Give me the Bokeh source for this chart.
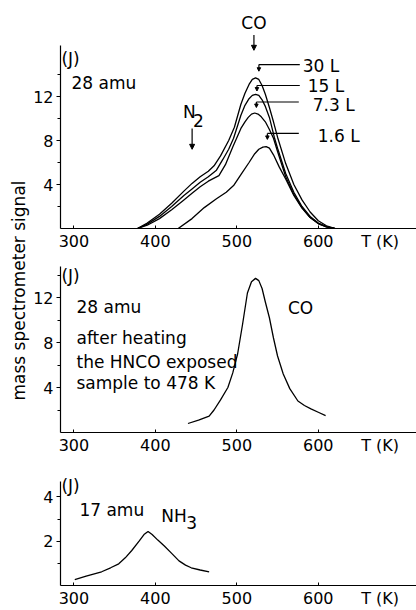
import math
from bokeh.plotting import figure
from bokeh.layouts import row, column
from bokeh.models import Label, Arrow, NormalHead, FixedTicker
from bokeh.embed import file_html
from bokeh.resources import INLINE

FONT = "DejaVu Sans"

# ---------------- data ----------------
# top panel: 28 amu, CO desorption after different HNCO exposures
T_30L = [378, 390, 405, 420, 435, 445, 455, 465, 472, 480, 490, 497, 505, 510, 515, 519, 523, 527, 531, 535,
         540, 545, 550, 560, 570, 580, 590, 600, 610, 621]
S_30L = [0, 0.5, 1.3, 2.3, 3.4, 4.1, 4.7, 5.2, 5.7, 6.6, 8.0, 9.2, 11.3, 12.3, 13.1, 13.55, 13.7, 13.55, 13.0, 12.2,
         11.0, 9.7, 8.3, 5.9, 4.0, 2.6, 1.5, 0.7, 0.25, 0]

T_15L = [378, 390, 405, 420, 435, 445, 455, 465, 475, 483, 490, 496, 505, 510, 515, 519, 523, 527, 531, 535,
         540, 546, 550, 560, 570, 580, 590, 600, 610, 620]
S_15L = [0, 0.4, 1.1, 2.0, 3.0, 3.6, 4.2, 4.7, 5.3, 6.3, 7.2, 8.2, 10.3, 11.2, 11.8, 12.1, 12.2, 12.1, 11.7, 11.1,
         10.1, 8.3, 7.3, 5.0, 3.3, 2.0, 1.1, 0.5, 0.18, 0]

T_73L = [378, 390, 405, 420, 435, 445, 455, 465, 478, 486, 495, 505, 510, 514, 518, 522, 526, 530, 535,
         540, 545, 550, 560, 570, 580, 590, 600, 610, 620]
S_73L = [0, 0.3, 0.9, 1.7, 2.6, 3.2, 3.8, 4.3, 4.8, 5.8, 7.4, 9.1, 9.7, 10.1, 10.4, 10.5, 10.4, 10.15, 9.7,
         9.0, 8.2, 7.0, 4.7, 3.1, 1.9, 1.0, 0.45, 0.15, 0]

T_16L = [428, 445, 460, 475, 487, 496, 505, 515, 522, 527, 532, 536, 540, 545, 552, 560, 570, 580, 590, 600, 610, 620]
S_16L = [0, 0.9, 1.9, 2.7, 3.3, 3.9, 4.9, 6.0, 6.8, 7.2, 7.4, 7.45, 7.3, 6.7, 5.6, 4.5, 3.0, 1.85, 1.0, 0.45, 0.15, 0]

# middle panel: 28 amu after heating to 478 K
T_CO = [440, 453, 466, 472, 480, 489, 495, 501, 507, 513, 518, 523, 527, 531, 535, 540, 545, 550, 557, 565,
        575, 583, 591, 600, 609]
S_CO = [0.8, 1.1, 1.45, 2.0, 2.9, 4.0, 5.3, 7.0, 9.6, 12.4, 13.4, 13.7, 13.5, 12.8, 11.6, 10.2, 8.4, 6.8, 5.2, 3.9,
        2.8, 2.4, 2.1, 1.8, 1.5]

# bottom panel: 17 amu, NH3
T_NH3 = [301, 315, 334, 345, 355, 363, 371, 380, 386, 391, 396, 403, 411, 420, 429, 437, 444, 455, 466]
S_NH3 = [0.27, 0.42, 0.62, 0.8, 0.98, 1.25, 1.58, 2.0, 2.3, 2.44, 2.3, 2.05, 1.78, 1.45, 1.11, 0.92, 0.8, 0.7, 0.62]

X_TICKS = [300, 400, 500, 600]
X_UNIT_POS = 676
X_UNIT_LABEL = "T (K)"
Y_TICKS_CO = [4, 8, 12]
Y_MINOR_CO = [2, 6, 10, 14]
Y_TICKS_NH3 = [2, 4]
Y_MINOR_NH3 = [1, 3]

X_RANGE = (283.5, 720.6)


def make_fig(height, ymax, border_bottom, yticks, yminor, ybound):
    p = figure(width=386, height=height, x_range=X_RANGE, y_range=(0, ymax),
               toolbar_location=None, output_backend="svg",
               min_border_left=29, min_border_right=0, min_border_top=0,
               min_border_bottom=border_bottom)
    p.grid.visible = False
    p.outline_line_color = None
    p.background_fill_color = "white"
    p.border_fill_color = "white"
    xa = p.xaxis[0]
    # numeric ticks plus the unit label written in the tick row; tick marks drawn as minor ticks
    xa.ticker = FixedTicker(ticks=X_TICKS + [X_UNIT_POS], minor_ticks=X_TICKS)
    xa.major_label_overrides = {X_UNIT_POS: X_UNIT_LABEL}
    xa.major_label_text_font = FONT
    xa.major_label_text_font_size = "16px"
    xa.major_label_text_color = "black"
    xa.major_label_standoff = 3
    xa.major_tick_in = 0
    xa.major_tick_out = 0
    xa.minor_tick_in = 3
    xa.minor_tick_out = 0
    xa.axis_line_width = 1.2
    xa.axis_line_color = "black"
    xa.minor_tick_line_color = "black"
    ya = p.yaxis[0]
    ya.ticker = FixedTicker(ticks=yticks, minor_ticks=yminor)
    ya.bounds = (0, ybound)
    ya.major_label_text_font = FONT
    ya.major_label_text_font_size = "16px"
    ya.major_label_text_color = "black"
    ya.major_label_standoff = 3
    ya.major_tick_in = 0
    ya.major_tick_out = 4
    ya.minor_tick_in = 0
    ya.minor_tick_out = 3
    ya.axis_line_width = 1.2
    ya.axis_line_color = "black"
    ya.major_tick_line_color = "black"
    ya.minor_tick_line_color = "black"
    return p


def lab(p, x, y, text, align="left", size="17px"):
    p.add_layout(Label(x=x, y=y, text=text, text_font=FONT, text_font_size=size,
                       text_color="black", text_align=align, text_baseline="middle"))


def arr(p, x0, y0, x1, y1, head=True, size=5):
    end = NormalHead(size=size, fill_color="black", line_color="black", line_width=1) if head else None
    p.add_layout(Arrow(x_start=x0, y_start=y0, x_end=x1, y_end=y1, end=end,
                       line_color="black", line_width=1.2))


LW = 1.3

# ---------------- top panel ----------------
p1 = make_fig(255, 228 / 11, 27, Y_TICKS_CO, Y_MINOR_CO, 16.6)
for T, S in [(T_30L, S_30L), (T_15L, S_15L), (T_73L, S_73L), (T_16L, S_16L)]:
    p1.line(T, S, line_color="black", line_width=LW)
lab(p1, 521, 18.7, "CO", align="center")
arr(p1, 521, 17.6, 521, 16.2)
lab(p1, 284.7, 15.4, "(J)")
lab(p1, 297, 13.2, "28 amu")
lab(p1, 434, 10.6, "N")
lab(p1, 446.3, 9.8, "2")
arr(p1, 445.1, 9.1, 445.1, 7.2)
# leader lines to the curves
for (xl, xr, yl, ytip, txt, tx, ty) in [
        (527.1, 577.3, 14.9, 14.3, "30 L", 581, 14.8),
        (524.7, 577.3, 13.0, 12.5, "15 L", 587, 12.95),
        (524.0, 576.1, 11.5, 11.0, "7.3 L", 593.2, 11.2),
        (537.5, 576.1, 8.64, 8.1, "1.6 L", 599.3, 8.45)]:
    arr(p1, xl, yl, xr, yl, head=False)
    arr(p1, xl, yl, xl, ytip, size=3.5)
    lab(p1, tx, ty, txt)

# ---------------- middle panel ----------------
p2 = make_fig(205, 177 / 11.25, 28, Y_TICKS_CO, Y_MINOR_CO, 14.8)
p2.line(T_CO, S_CO, line_color="black", line_width=LW)
lab(p2, 284.7, 13.9, "(J)")
lab(p2, 303.1, 11.2, "28 amu")
lab(p2, 562.7, 11.1, "CO")
lab(p2, 303.1, 8.44, "after heating")
lab(p2, 303.1, 6.31, "the HNCO exposed")
lab(p2, 303.1, 4.36, "sample to 478 K")

# ---------------- bottom panel ----------------
p3 = make_fig(150, 127 / 22.5, 23, Y_TICKS_NH3, Y_MINOR_NH3, 4.7)
p3.line(T_NH3, S_NH3, line_color="black", line_width=LW)
lab(p3, 284.7, 4.5, "(J)")
lab(p3, 306.7, 3.42, "17 amu")
lab(p3, 407.1, 3.16, "NH")
lab(p3, 437.8, 2.84, "3")

# ---------------- left strip with the shared y label ----------------
strip = figure(width=30, height=610, x_range=(0, 30), y_range=(0, 610),
               toolbar_location=None, output_backend="svg",
               min_border_left=0, min_border_right=0, min_border_top=0, min_border_bottom=0)
strip.axis.visible = False
strip.grid.visible = False
strip.outline_line_color = None
strip.add_layout(Label(x=18, y=610 - 290, text="mass spectrometer signal", angle=math.pi / 2,
                       text_font=FONT, text_font_size="17px", text_color="black",
                       text_align="center", text_baseline="middle"))

layout = row(strip, column(p1, p2, p3, spacing=0), spacing=0)

open("out.html", "w").write(file_html(layout, INLINE))
